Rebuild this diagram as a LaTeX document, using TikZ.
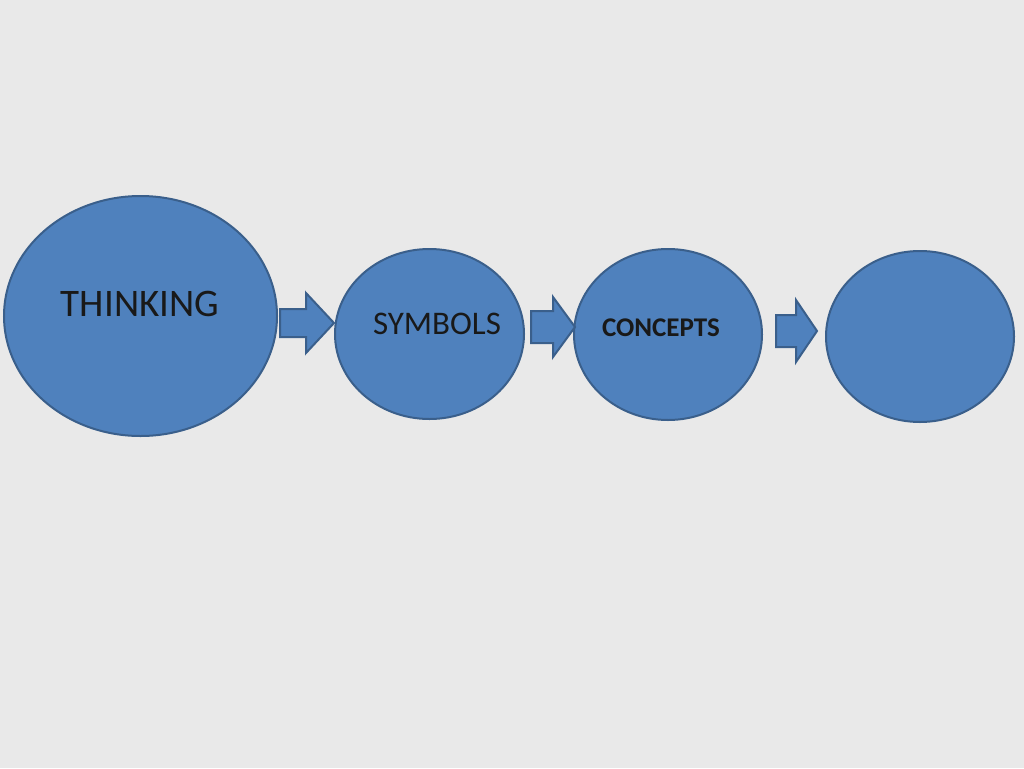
\documentclass[tikz,border=0pt]{standalone}
\usepackage{fontspec}
\setmainfont{Carlito}
\usetikzlibrary{shapes.geometric}

\definecolor{slidegray}{HTML}{E9E9E9}
\definecolor{bubblefill}{HTML}{4F81BD}
\definecolor{bubbleline}{HTML}{3A5F8B}

\tikzset{
    bubble/.style={ellipse, fill=bubblefill, draw=bubbleline, line width=2pt, inner sep=0pt},
    blockarrow/.style={fill=bubblefill, draw=bubbleline, line width=2pt, line join=miter},
    bubbletext/.style={inner sep=0pt, text=black!90}
}

\begin{document}
\begin{tikzpicture}[x=1pt, y=-1pt]
    \fill[slidegray] (0,0) rectangle (1024,768);
    \useasboundingbox (0,0) rectangle (1024,768);

    % the four bubbles
    \node (thinking) [bubble, minimum width=273pt, minimum height=240pt] at (140.5,316) {};
    \node (symbols) [bubble, minimum width=189pt, minimum height=170pt] at (429.5,334) {};
    \node (concepts) [bubble, minimum width=188pt, minimum height=171pt] at (668,334.5) {};
    \node (last) [bubble, minimum width=188pt, minimum height=171pt] at (920,336.5) {};

    % their texts
    \node (thinkingtext) [bubbletext, font=\fontsize{39}{44}\selectfont] at (140,304) {THINKING};
    \node (symbolstext) [bubbletext, font=\fontsize{33}{38}\selectfont] at (437,324) {SYMBOLS};
    \node (conceptstext) [bubbletext, font=\fontsize{27}{32}\selectfont\bfseries] at (661,328) {CONCEPTS};

    % block arrows in between
    \draw[blockarrow] (280,309) -- (306,309) -- (306,293) -- (334,323) -- (306,353) -- (306,337) -- (280,337) -- cycle;
    \draw[blockarrow] (531,311) -- (553,311) -- (553,297) -- (575,327) -- (553,357) -- (553,343) -- (531,343) -- cycle;
    \draw[blockarrow] (776,315) -- (796,315) -- (796,300) -- (817,331) -- (796,362) -- (796,347) -- (776,347) -- cycle;
\end{tikzpicture}
\end{document}
